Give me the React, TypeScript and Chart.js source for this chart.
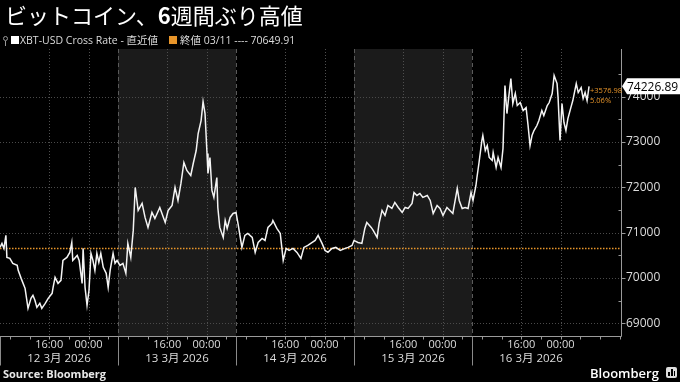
import React, { useEffect, useRef } from "react";
import { Chart, registerables } from "chart.js";
Chart.register(...registerables);

// hours since 12 Mar 06:00 (local chart time)
const hours = [
  0.0, 0.4, 0.8, 1.2, 1.4, 2.0, 2.6, 3.5, 3.7, 4.3,
  4.7, 5.1, 5.7, 6.3, 6.7, 7.1, 7.5, 8.1, 8.5, 9.2,
  9.8, 10.6, 10.8, 11.2, 11.8, 12.4, 12.8, 13.6, 14.2, 14.6,
  14.8, 15.7, 16.1, 16.7, 16.9, 17.3, 17.7, 18.1, 18.5, 18.9,
  19.3, 19.7, 20.1, 20.5, 21.0, 21.6, 22.0, 22.4, 23.0, 23.4,
  23.8, 24.4, 25.0, 25.6, 26.0, 26.6, 27.1, 27.5, 28.1, 28.9,
  29.5, 30.1, 30.9, 31.5, 32.5, 33.6, 34.2, 35.0, 35.6, 36.2,
  36.8, 37.4, 38.0, 38.8, 39.3, 39.9, 40.3, 40.9, 41.3, 41.7,
  42.1, 42.3, 42.7, 43.1, 43.5, 44.1, 44.3, 44.7, 45.4, 45.8,
  46.2, 46.8, 47.4, 48.0, 48.4, 49.2, 49.8, 50.4, 51.3, 51.9,
  52.5, 53.3, 53.9, 54.5, 55.3, 55.5, 56.3, 57.0, 57.6, 58.2,
  58.8, 59.6, 60.4, 61.2, 61.8, 62.6, 63.5, 64.1, 64.7, 65.5,
  66.1, 66.7, 67.5, 68.3, 69.2, 70.2, 70.8, 71.6, 72.0, 72.8,
  73.6, 74.2, 74.6, 75.5, 75.9, 76.7, 77.1, 77.7, 78.3, 78.9,
  79.7, 80.3, 81.0, 81.8, 82.4, 83.0, 83.8, 84.2, 84.8, 85.4,
  86.0, 86.9, 87.5, 88.1, 88.9, 89.5, 90.1, 90.9, 91.5, 92.1,
  93.0, 93.4, 94.0, 94.6, 95.2, 95.8, 96.2, 96.8, 97.0, 97.4,
  98.0, 98.2, 98.7, 99.1, 99.5, 100.1, 100.3, 100.9, 101.3, 101.9,
  102.3, 102.7, 103.1, 103.5, 103.9, 104.3, 104.8, 105.2, 105.8, 106.4,
  107.0, 107.4, 107.8, 108.2, 108.6, 109.2, 109.6, 110.2, 110.6, 111.3,
  111.7, 112.3, 112.7, 113.3, 113.5, 113.9, 114.3, 114.7, 115.1, 115.5,
  116.1, 116.5, 117.2, 117.6, 118.2, 118.6, 119.0, 119.4, 119.8,
];

const prices = [
  70674, 70762, 70652, 70939, 70454, 70432, 70322, 70278, 70168, 69991,
  69881, 69771, 69330, 69551, 69617, 69507, 69352, 69441, 69330, 69441,
  69551, 69661, 69793, 70013, 69881, 69947, 70388, 70454, 70564, 70784,
  70388, 70498, 70388, 69881, 70652, 69793, 69397, 69727, 70542, 70388,
  70168, 70542, 70344, 70542, 70234, 70102, 69793, 70168, 70542, 70322,
  70388, 70278, 70322, 70102, 70762, 70454, 71049, 71996, 71489, 71644,
  71335, 71115, 71445, 71313, 71555, 71225, 71489, 71600, 71996, 71710,
  72084, 72547, 72371, 72260, 72525, 72811, 73186, 73472, 73891, 73626,
  72745, 72305, 72657, 71930, 71776, 72216, 71555, 71115, 70895, 71269,
  71093, 71335, 71423, 71445, 71203, 70674, 70939, 70983, 70895, 70564,
  70784, 70873, 70828, 71115, 71203, 71269, 71093, 70983, 70388, 70652,
  70608, 70652, 70564, 70432, 70674, 70718, 70784, 70828, 70939, 70762,
  70608, 70564, 70652, 70674, 70608, 70652, 70674, 70718, 70828, 70784,
  70762, 71093, 71225, 71115, 71049, 70895, 71203, 71489, 71379, 71600,
  71533, 71666, 71555, 71445, 71555, 71533, 71644, 71886, 71820, 71864,
  71776, 71820, 71710, 71423, 71600, 71533, 71379, 71555, 71489, 71423,
  71974, 71710, 71533, 71555, 71533, 71886, 71710, 72040, 72216, 72525,
  73031, 73142, 72811, 72921, 72657, 72591, 72767, 72437, 72657, 72437,
  72855, 74243, 73626, 74023, 74397, 73847, 74067, 73803, 73869, 73692,
  73758, 73362, 72921, 73142, 73252, 73362, 73472, 73692, 73582, 73803,
  73869, 74067, 74463, 74287, 73979, 73031, 73847, 73428, 73252, 73516,
  73758, 73913, 74287, 74089, 74199, 73957, 74089, 73913, 74226.89,
];

const prevClose = 70649.91;
const lastPrice = 74226.89;
const lastLabel = "74226.89";
const changeLabel = "+3576.98";
const changePctLabel = "5.06%";

const yTicks = [69000, 70000, 71000, 72000, 73000, 74000];
const timeTickHours = [10, 18, 34, 42, 58, 66, 82, 90, 106, 114];
const timeTickLabels = ["16:00", "00:00", "16:00", "00:00", "16:00", "00:00", "16:00", "00:00", "16:00", "00:00"];
const dayBoundaryHours = [0, 24, 48, 72, 96];
const dayCenterHours = [12, 36, 60, 84, 108];
const dayLabels = ["12 3月 2026", "13 3月 2026", "14 3月 2026", "15 3月 2026", "16 3月 2026"];
const shadedDays = [[24, 48], [72, 96]];

const titleA = "ビットコイン、";
const titleNum = "6";
const titleB = "週間ぶり高値";
const seriesName = "XBT-USD Cross Rate - 直近値";
const refName = "終値 03/11 ---- 70649.91";
const sourceText = "Source: Bloomberg";
const logoText = "Bloomberg";

const X_MAX = 126.3;
const Y_MIN = 68720;
const Y_MAX = 75050;
const ORANGE = "#e8952a";
const TEXT = "#dcdcdc";
const FONT = '"Open Sans", "Noto Sans CJK JP", sans-serif';

const decoPlugin = {
  id: "deco",
  beforeDatasetsDraw(chart: any) {
    const { ctx, chartArea: a, scales } = chart;
    const x = scales.x, y = scales.y;
    ctx.save();
    ctx.fillStyle = "#1b1b1b";
    for (const [s, e] of shadedDays) {
      const x1 = x.getPixelForValue(s), x2 = x.getPixelForValue(e);
      ctx.fillRect(x1, a.top, x2 - x1, a.bottom - a.top);
    }
    const line = (x1: number, y1: number, x2: number, y2: number) => {
      ctx.beginPath(); ctx.moveTo(x1, y1); ctx.lineTo(x2, y2); ctx.stroke();
    };
    ctx.lineWidth = 1;
    ctx.strokeStyle = "#4a4a4a";
    ctx.setLineDash([1, 2]);
    for (const v of yTicks) {
      const py = Math.round(y.getPixelForValue(v)) + 0.5;
      line(a.left, py, a.right, py);
    }
    ctx.strokeStyle = "#4f4f4f";
    for (const h of timeTickHours) {
      const px = Math.round(x.getPixelForValue(h)) + 0.5;
      line(px, a.top, px, a.bottom);
    }
    ctx.strokeStyle = "#5a5a5a";
    ctx.setLineDash([4, 3]);
    for (const h of dayBoundaryHours.slice(1)) {
      const px = Math.round(x.getPixelForValue(h)) + 0.5;
      line(px, a.top, px, a.bottom);
    }
    ctx.strokeStyle = ORANGE;
    ctx.lineWidth = 1.5;
    ctx.setLineDash([1.5, 1.5]);
    const oy = y.getPixelForValue(prevClose);
    line(a.left, oy, a.right, oy);
    ctx.restore();
  },
  afterDraw(chart: any) {
    const { ctx, chartArea: a, scales } = chart;
    const x = scales.x, y = scales.y;
    ctx.save();
    const line = (x1: number, y1: number, x2: number, y2: number) => {
      ctx.beginPath(); ctx.moveTo(x1, y1); ctx.lineTo(x2, y2); ctx.stroke();
    };
    ctx.strokeStyle = "#9a9a9a";
    ctx.lineWidth = 1;
    const bx = Math.round(a.right) + 0.5;
    const by = Math.round(a.bottom) + 0.5;
    line(a.left, by, bx, by);
    line(bx, a.top, bx, by);
    for (const v of yTicks) {
      const py = Math.round(y.getPixelForValue(v)) + 0.5;
      line(bx, py, bx + 4, py);
    }
    for (let v = 69500; v < Y_MAX; v += 1000) {
      const py = Math.round(y.getPixelForValue(v)) + 0.5;
      line(bx - 3, py, bx, py);
    }
    for (let h = 2; h < X_MAX; h += 4) {
      const px = Math.round(x.getPixelForValue(h)) + 0.5;
      line(px, by, px, by + 3);
    }
    ctx.strokeStyle = "#8a8a8a";
    for (const h of dayBoundaryHours) {
      const px = Math.max(0.5, Math.round(x.getPixelForValue(h)) + 0.5);
      line(px, by, px, by + 29);
    }
    // last price tag
    const py = y.getPixelForValue(lastPrice);
    const x0 = a.right + 1;
    ctx.fillStyle = "#ffffff";
    ctx.beginPath();
    ctx.moveTo(x0, py);
    ctx.lineTo(x0 + 5, py - 8);
    ctx.lineTo(chart.width, py - 8);
    ctx.lineTo(chart.width, py + 8);
    ctx.lineTo(x0 + 5, py + 8);
    ctx.closePath();
    ctx.fill();
    ctx.fillStyle = "#000";
    ctx.font = '12px "Open Sans", sans-serif';
    ctx.textAlign = "left";
    ctx.textBaseline = "middle";
    ctx.fillText(lastLabel, x0 + 5, py + 1);
    // change annotation
    const lx = x.getPixelForValue(hours[hours.length - 1]) + 1;
    ctx.fillStyle = ORANGE;
    ctx.font = '7.5px "Open Sans", sans-serif';
    ctx.fillText(changeLabel, lx, py + 5);
    ctx.fillText(changePctLabel, lx, py + 15);
    ctx.restore();
  },
};

export default function App() {
  const ref = useRef<HTMLCanvasElement>(null);
  useEffect(() => {
    document.body.style.margin = "0";
    document.body.style.background = "#000";
    const chart = new Chart(ref.current as HTMLCanvasElement, {
      type: "line",
      data: {
        datasets: [
          {
            data: hours.map((h, i) => ({ x: h, y: prices[i] })),
            borderColor: "#f4f4f4",
            borderWidth: 1.5,
            pointRadius: 0,
            tension: 0,
            xAxisID: "x",
            yAxisID: "y",
          },
        ],
      },
      options: {
        responsive: false,
        maintainAspectRatio: false,
        animation: false,
        layout: { padding: { top: 49, left: 0, right: 0, bottom: 12 } },
        plugins: { legend: { display: false }, tooltip: { enabled: false } },
        scales: {
          x: {
            type: "linear",
            position: "bottom",
            weight: 0,
            min: 0,
            max: X_MAX,
            grid: { display: false, drawTicks: false },
            border: { display: false },
            afterBuildTicks: (s: any) => { s.ticks = timeTickHours.map((v) => ({ value: v })); },
            ticks: {
              autoSkip: false,
              maxRotation: 0,
              color: TEXT,
              padding: 2,
              font: { family: FONT, size: 11 },
              callback: (_v: any, i: number) => timeTickLabels[i],
            },
            afterFit: (s: any) => { s.height = 16; },
          },
          x2: {
            type: "linear",
            position: "bottom",
            weight: 1,
            min: 0,
            max: X_MAX,
            grid: { display: false, drawTicks: false },
            border: { display: false },
            afterBuildTicks: (s: any) => { s.ticks = dayCenterHours.map((v) => ({ value: v })); },
            ticks: {
              autoSkip: false,
              maxRotation: 0,
              color: TEXT,
              padding: 0,
              font: { family: FONT, size: 11.5 },
              callback: (_v: any, i: number) => dayLabels[i],
            },
            afterFit: (s: any) => { s.height = 18; },
          },
          y: {
            type: "linear",
            position: "right",
            min: Y_MIN,
            max: Y_MAX,
            grid: { display: false, drawTicks: false },
            border: { display: false },
            afterBuildTicks: (s: any) => { s.ticks = yTicks.map((v) => ({ value: v })); },
            ticks: {
              color: TEXT,
              padding: 5,
              font: { family: FONT, size: 12 },
              callback: (v: any) => String(v),
            },
            afterFit: (s: any) => { s.width = 59; },
          },
        },
      } as any,
      plugins: [decoPlugin],
    });
    return () => chart.destroy();
  }, []);

  return (
    <div style={{ position: "relative", width: 680, height: 382, background: "#000", overflow: "hidden", fontFamily: FONT }}>
      <canvas ref={ref} width={680} height={382} style={{ position: "absolute", left: 0, top: 0, width: 680, height: 382, display: "block" }} />
      <div style={{ position: "absolute", left: 5, top: 0, fontSize: 22, lineHeight: "28px", color: "#fff", fontFamily: '"Noto Sans CJK JP", sans-serif', whiteSpace: "nowrap" }}>
        {titleA}<span style={{ fontWeight: 700 }}>{titleNum}</span>{titleB}
      </div>
      <div style={{ position: "absolute", left: 0, top: 33, height: 14, width: 400, fontSize: 10.5, lineHeight: "14px", color: TEXT, whiteSpace: "nowrap" }}>
        <div style={{ position: "absolute", left: 3, top: 3, width: 3, height: 3, border: "1px solid #999", borderRadius: 3 }} />
        <div style={{ position: "absolute", left: 5, top: 8, width: 1, height: 5, background: "#999" }} />
        <div style={{ position: "absolute", left: 11, top: 3, width: 8, height: 8, background: "#fff" }} />
        <div style={{ position: "absolute", left: 20, top: 0 }}>{seriesName}</div>
        <div style={{ position: "absolute", left: 169, top: 3, width: 8, height: 8, background: ORANGE }} />
        <div style={{ position: "absolute", left: 180, top: 0 }}>{refName}</div>
      </div>
      <div style={{ position: "absolute", left: 3, top: 367, fontSize: 11, lineHeight: "14px", fontWeight: 700, color: "#e8e8e8", whiteSpace: "nowrap" }}>
        {sourceText}
      </div>
      <div style={{ position: "absolute", left: 590, top: 365, fontSize: 13, lineHeight: "16px", fontWeight: 600, color: "#fff", whiteSpace: "nowrap" }}>
        {logoText}
      </div>
      <div style={{ position: "absolute", left: 666, top: 367, width: 11, height: 11, background: "#ddd", borderRadius: 2 }}>
        <div style={{ position: "absolute", left: 2, top: 5, width: 2, height: 4, background: "#000" }} />
        <div style={{ position: "absolute", left: 5, top: 2, width: 2, height: 7, background: "#000" }} />
        <div style={{ position: "absolute", left: 8, top: 4, width: 1, height: 5, background: "#000" }} />
      </div>
    </div>
  );
}
